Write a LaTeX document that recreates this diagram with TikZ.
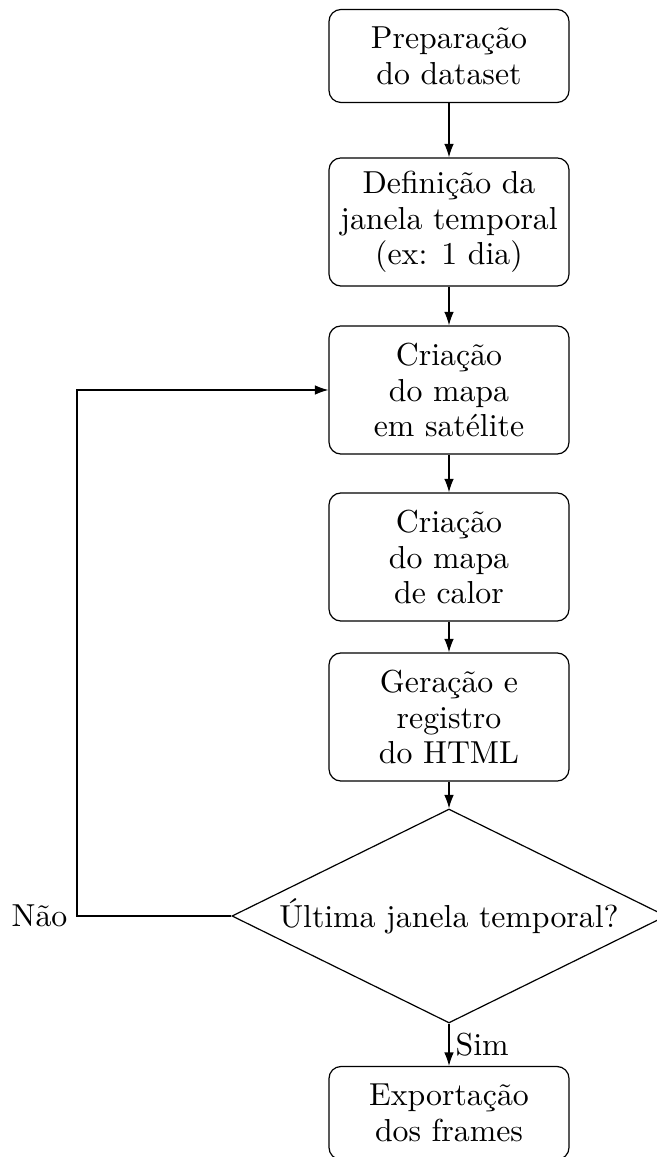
\documentclass[tikz,border=0pt]{standalone}
\usetikzlibrary{shapes.geometric,arrows.meta}
\begin{document}
\begin{tikzpicture}[x=0.3333pt,y=-0.3333pt,
  every node/.style={font=\fontsize{10.6}{11.8}\selectfont},
  stepbox/.style={draw,rounded corners=4pt,align=center,minimum width=80pt,inner sep=2pt},
  twoline/.style={stepbox,minimum height=31pt},
  threeline/.style={stepbox,minimum height=42.7pt},
  decision/.style={draw,diamond,shape aspect=2,inner sep=0pt,minimum width=144.7pt,minimum height=71.3pt,align=center},
  flow/.style={-{Latex[length=4.5pt,width=3.2pt]}}]
\useasboundingbox (0,0) rectangle (656,1157);
\node[twoline] (b1) at (449,56) {Preparação\\do dataset};
\node[threeline] (b2) at (449,222) {Definição da\\janela temporal\\(ex: 1 dia)};
\node[threeline] (b3) at (449,390) {Criação\\do mapa\\em satélite};
\node[threeline] (b4) at (449,557) {Criação\\do mapa\\de calor};
\node[threeline] (b5) at (449,717) {Geração e\\registro\\do HTML};
\node[decision] (d) at (449,916) {Última janela temporal?};
\node[twoline] (b6) at (449,1113) {Exportação\\dos frames};
\coordinate (c) at (77,916);
\node[anchor=east,inner sep=3pt] (nao) at (c) {Não};
\draw[flow] (b1) -- (b2);
\draw[flow] (b2) -- (b3);
\draw[flow] (b3) -- (b4);
\draw[flow] (b4) -- (b5);
\draw[flow] (b5) -- (d);
\draw[flow] (d.south) -- node[right,inner sep=2pt] {Sim} (b6.north);
\draw[flow] (d.west) -- (c) |- (b3.west);
\end{tikzpicture}
\end{document}
